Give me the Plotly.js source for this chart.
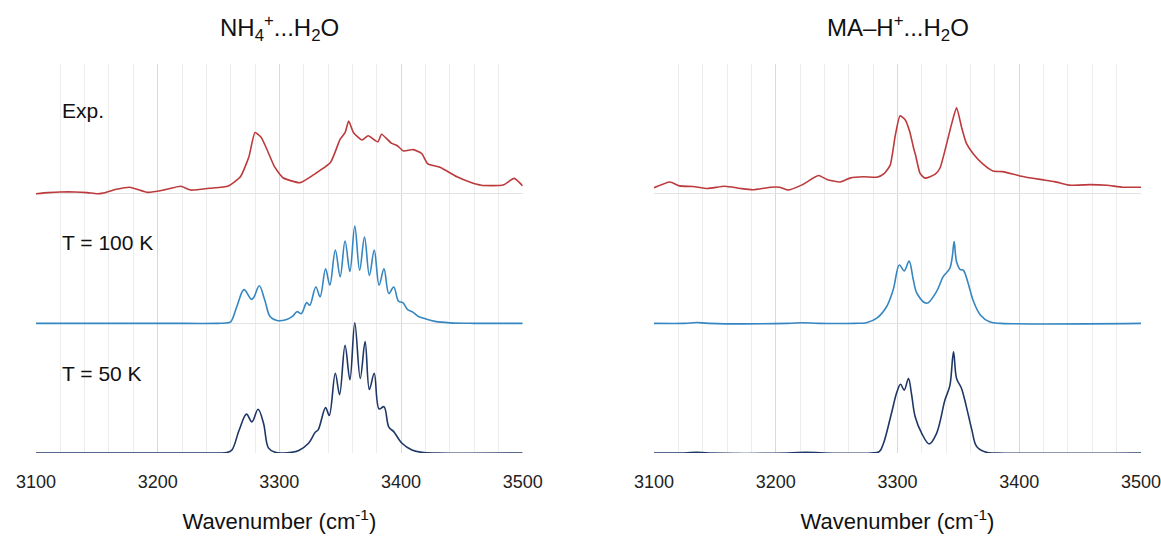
<!DOCTYPE html>
<html>
<head>
<meta charset="utf-8">
<script src="https://cdn.plot.ly/plotly-3.0.1.min.js"></script>
<style>html,body{margin:0;padding:0;background:#fff;}#chart{width:1161px;height:537px;}</style>
</head>
<body>
<div id="chart"></div>
<script>
// ---- Data (wavenumber in cm-1, intensity in arbitrary units above each trace's baseline) ----
const panelTitles = ['NH<sub>4</sub><sup>+</sup>...H<sub>2</sub>O', 'MA–H<sup>+</sup>...H<sub>2</sub>O'];
const seriesNames = ['Exp.', 'T = 100 K', 'T = 50 K'];
const seriesOffsets = [2, 1, 0];
const tickVals = [3100, 3200, 3300, 3400, 3500];
const xAxisTitle = 'Wavenumber (cm<sup>-1</sup>)';

// Left panel: NH4+...H2O
const nhExpX = [3100,3110,3120,3132,3142,3150,3155,3166,3177,3192,3205,3219,3227,3243,3258,3268,3275,3280,3285,3290,3296,3303,3317,3328,3342,3350,3354,3357,3361,3368,3373,3381,3384,3392,3397,3402,3410,3417,3422,3432,3446,3457,3466,3484,3493,3500];
const nhExpY = [0.000,0.008,0.013,0.013,0.008,0.000,0.004,0.034,0.050,0.010,0.028,0.057,0.028,0.042,0.060,0.130,0.285,0.472,0.435,0.337,0.208,0.123,0.085,0.145,0.240,0.420,0.470,0.560,0.470,0.414,0.447,0.400,0.458,0.390,0.370,0.330,0.340,0.310,0.230,0.204,0.130,0.088,0.065,0.067,0.118,0.060];

const nh100X = [3100,3200,3250,3256,3260,3265,3271,3277,3279,3283.5,3288,3292.5,3298,3306,3311,3314.5,3318,3322.5,3325,3330,3333.5,3338,3341.5,3346,3350,3354,3358,3362,3366,3370,3374,3378,3382,3386,3390,3394,3398,3401.5,3405.5,3410,3414,3420,3428,3440,3460,3500];
const nh100Y = [0,0,0,0.003,0.012,0.128,0.260,0.185,0.200,0.290,0.180,0.050,0.022,0.030,0.055,0.090,0.075,0.160,0.140,0.280,0.205,0.420,0.295,0.565,0.360,0.635,0.400,0.750,0.410,0.665,0.370,0.565,0.295,0.420,0.230,0.280,0.170,0.160,0.105,0.085,0.055,0.035,0.015,0.004,0,0];

const nh50X = [3100,3200,3250,3257,3261,3267,3273,3277.5,3282.5,3287,3291,3296,3302,3310,3316,3324,3329.5,3332,3338,3341,3346,3349.5,3354,3358,3362,3366.5,3370.5,3374,3378,3382,3386,3390,3394,3400.8,3409,3417,3430,3500];
const nh50Y = [0,0,0,0.004,0.023,0.177,0.300,0.240,0.337,0.230,0.040,0.008,0.000,0.005,0.020,0.075,0.160,0.180,0.350,0.290,0.615,0.450,0.830,0.565,1.005,0.575,0.860,0.490,0.615,0.340,0.357,0.200,0.165,0.075,0.023,0.005,0,0];

// Right panel: MA-H+...H2O
const maExpX = [3100,3113,3121,3132,3144,3158,3171,3181,3196,3203,3210,3222,3235,3242,3253,3261,3272,3283,3289,3294,3298,3302,3306,3310,3313,3315,3318.5,3322.5,3331,3335,3340.5,3344.5,3348.5,3352.5,3356.5,3362,3370,3378.5,3386.5,3400.5,3417,3429,3442,3458,3472,3485,3500];
const maExpY = [0.046,0.090,0.060,0.055,0.040,0.057,0.040,0.030,0.050,0.050,0.028,0.070,0.140,0.110,0.090,0.120,0.130,0.127,0.155,0.220,0.440,0.600,0.574,0.480,0.360,0.290,0.157,0.120,0.150,0.200,0.390,0.540,0.665,0.517,0.390,0.310,0.230,0.175,0.170,0.137,0.110,0.093,0.065,0.070,0.065,0.050,0.050];

const ma100X = [3100,3125,3135,3145,3210,3222,3235,3265,3274.5,3283,3291,3296.5,3301.5,3305.5,3309.5,3313,3316,3324,3332,3337.5,3343,3345,3346.5,3348.5,3351.5,3354,3358,3362,3368,3376,3385,3500];
const ma100Y = [0,0,0.006,0,0,0.005,0,0,0.005,0.040,0.128,0.260,0.450,0.405,0.480,0.335,0.230,0.155,0.245,0.360,0.425,0.515,0.630,0.475,0.415,0.410,0.310,0.180,0.065,0.010,0,0];

const ma50X = [3100,3125,3135,3145,3210,3225,3240,3278,3285,3288.5,3295,3299.5,3302.5,3305.5,3309,3311.5,3314.5,3320,3326,3332,3339,3343,3346,3348.5,3352.5,3356.5,3361,3365,3373,3382,3500];
const ma50Y = [0,0,0.005,0,0,0.006,0,0,0.010,0.075,0.305,0.470,0.530,0.485,0.575,0.455,0.280,0.150,0.070,0.150,0.410,0.520,0.780,0.575,0.500,0.360,0.180,0.050,0.005,0,0];

const seriesColors = ['#BC3A3C', '#3586C1', '#1F3766'];

// ---- Build traces ----
const panels = [
  {xa: 'x', ya: 'y', data: [[nhExpX, nhExpY], [nh100X, nh100Y], [nh50X, nh50Y]]},
  {xa: 'x2', ya: 'y2', data: [[maExpX, maExpY], [ma100X, ma100Y], [ma50X, ma50Y]]}
];
const traces = [];
panels.forEach(p => {
  p.data.forEach((d, i) => {
    traces.push({
      x: d[0],
      y: d[1].map(v => v + seriesOffsets[i]),
      xaxis: p.xa, yaxis: p.ya,
      type: 'scatter', mode: 'lines',
      name: seriesNames[i],
      line: {color: seriesColors[i], width: 1.6, shape: 'spline', smoothing: i === 0 ? 0.5 : 1.0},
      hoverinfo: 'x+y', showlegend: false
    });
  });
});

const font = 'Liberation Sans, Arial, sans-serif';
function xAxis(domain, anchor) {
  return {
    domain: domain, anchor: anchor, range: [3100, 3500],
    tickvals: tickVals, ticks: '', showline: false, zeroline: false,
    showgrid: true, gridcolor: '#D9D9D9', gridwidth: 1,
    minor: {dtick: 20, tick0: 3100, showgrid: true, gridcolor: '#EDEDED', gridwidth: 1, ticks: ''},
    tickfont: {family: font, size: 18, color: '#222'},
    ticklabelstandoff: 16,
    ticklabeloverflow: 'allow',
    title: {text: xAxisTitle, font: {family: font, size: 22, color: '#111'}, standoff: 22},
    fixedrange: true
  };
}
function yAxis(anchor) {
  return {
    domain: [0.1564, 0.8808], anchor: anchor, range: [0, 3],
    dtick: 1, showticklabels: false, ticks: '', zeroline: false, showline: false,
    showgrid: true, gridcolor: '#E3E3E3', gridwidth: 1, fixedrange: true
  };
}

const annotations = [];
panelTitles.forEach((t, k) => {
  annotations.push({text: t, xref: k === 0 ? 'x domain' : 'x2 domain', yref: 'paper', x: 0.5, y: 0.948,
    xanchor: 'center', yanchor: 'middle', showarrow: false, font: {family: font, size: 24, color: '#111'}});
});
const labelY = [2.645, 1.62, 0.617];
seriesNames.forEach((n, i) => {
  annotations.push({text: n, xref: 'x', yref: 'y', x: 3120, y: labelY[i], xanchor: 'left', yanchor: 'middle',
    showarrow: false, font: {family: font, size: 21, color: '#111'}});
});

const layout = {
  width: 1161, height: 537,
  margin: {l: 0, r: 0, t: 0, b: 0},
  paper_bgcolor: '#fff', plot_bgcolor: '#fff',
  xaxis: xAxis([0.031, 0.4502], 'y'),
  yaxis: yAxis('x'),
  xaxis2: xAxis([0.5633, 0.9828], 'y2'),
  yaxis2: yAxis('x2'),
  annotations: annotations,
  showlegend: false
};

Plotly.newPlot('chart', traces, layout, {displayModeBar: false, staticPlot: true});
</script>
</body>
</html>
